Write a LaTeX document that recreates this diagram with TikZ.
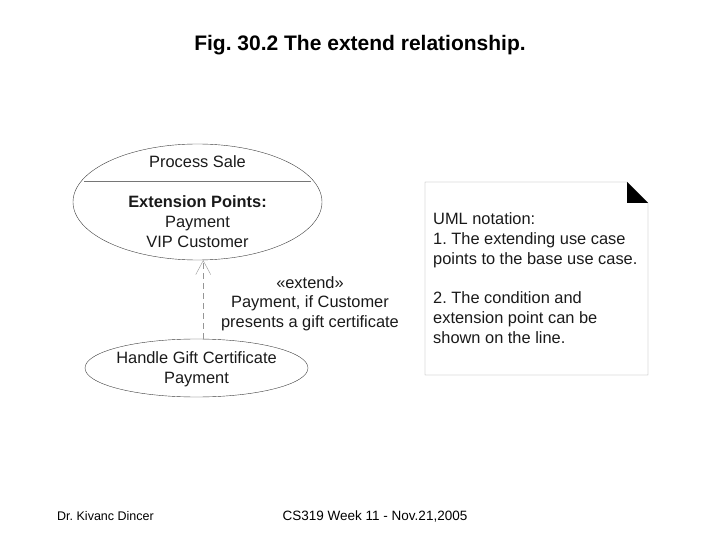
\documentclass[tikz,border=0pt]{standalone}
\usepackage{fontspec}
\setmainfont{Liberation Sans}
\usepackage{xcolor}
\usetikzlibrary{shapes.geometric, arrows.meta, positioning}
\definecolor{ucline}{RGB}{60,60,60}
\definecolor{notegray}{RGB}{150,150,150}
\definecolor{txtdark}{RGB}{25,25,25}
\frenchspacing

\begin{document}
\begin{tikzpicture}[x=1pt, y=-1pt,
    usecase/.style={draw=ucline, ellipse, inner sep=0pt},
    uctext/.style={font=\fontsize{16.4}{19.7}\selectfont, text=txtdark, align=center, inner sep=0pt},
    extendline/.style={draw=notegray, dash pattern=on 6pt off 4pt, -{Straight Barb[length=14pt, width=15pt]}}]
    \useasboundingbox (0,0) rectangle (720,540);
    % title and footer
    \node[font=\fontsize{21}{23}\selectfont\bfseries] (title) at (360,45) {Fig. 30.2 The extend relationship.};
    \node[font=\fontsize{12.5}{14}\selectfont, anchor=west, inner sep=0pt] (author) at (57,516) {Dr. Kivanc Dincer};
    \node[font=\fontsize{13.5}{15}\selectfont] (course) at (375,516) {CS319 Week 11 - Nov.21,2005};
    % base use case
    \node[usecase, minimum width=249pt, minimum height=116pt] (sale) at (197.5,202) {};
    \draw[draw=ucline!70] (84,181.5) -- (311,181.5);
    \node[uctext] (saletitle) at (197.5,161.5) {Process Sale};
    \node[uctext] (points) at (197.5,221.5) {\textbf{Extension Points:}\\Payment\\VIP Customer};
    % extending use case
    \node[usecase, minimum width=223pt, minimum height=58pt] (gift) at (196.5,368) {};
    \node[uctext] (gifttext) at (196.5,369.5) {Handle Gift Certificate\\Payment};
    \draw[extendline] (gift.77) -- (gift.77 |- sale.south);
    \node[uctext] (cond) at (310,303.5) {«extend»\\Payment, if Customer\\presents a gift certificate};
    % note
    \draw[notegray] (425,182) -- (627,182) -- (648,203) -- (648,375) -- (425,375) -- cycle;
    \fill[black] (627,182) -- (648,203) -- (627,203) -- cycle;
    \node[uctext, font=\fontsize{16.4}{20}\selectfont, align=left, anchor=north west] (note) at (433,212.5) {UML notation:\\1. The extending use case\\points to the base use case.\\[19pt]2. The condition and\\extension point can be\\shown on the line.};
\end{tikzpicture}
\end{document}
